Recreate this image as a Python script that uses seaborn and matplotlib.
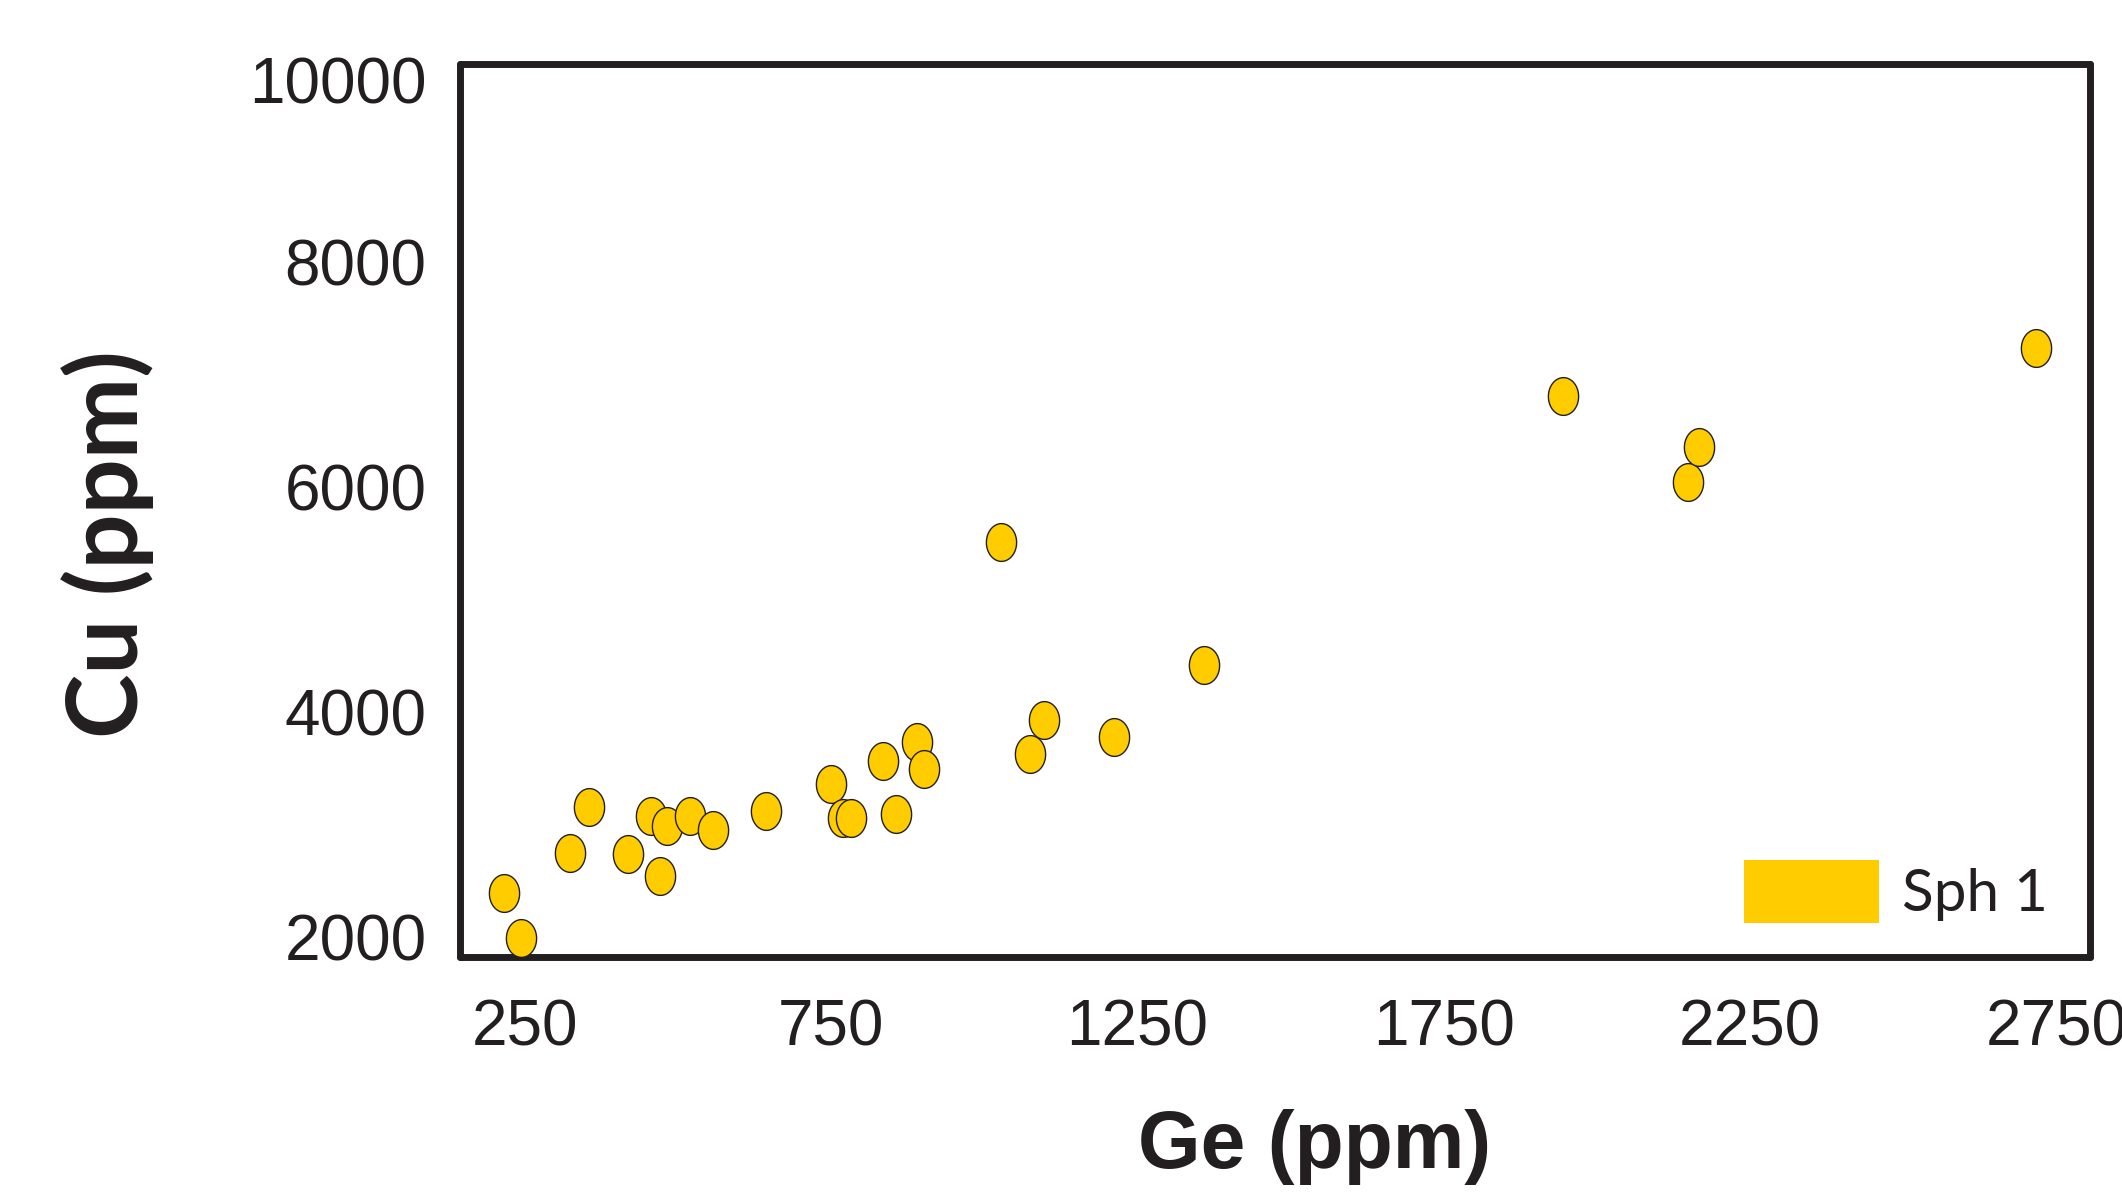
import numpy as np
import pandas as pd
import seaborn as sns
import matplotlib.pyplot as plt
from matplotlib.patches import Patch

# data
ge_ppm = [215, 243, 323, 354, 418, 455, 471, 482, 519, 557, 643, 749, 769, 782,
          835, 855, 890, 901, 1027, 1074, 1098, 1211, 1359, 1944, 2149, 2167, 2717]
cu_ppm = [2385, 1988, 2745, 3154, 2733, 3070, 2541, 2986, 3070, 2950, 3118, 3359,
          3058, 3058, 3563, 3094, 3731, 3491, 5511, 3623, 3924, 3779, 4417, 6809,
          6040, 6353, 7230]
x_ticks = [250, 750, 1250, 1750, 2250, 2750]
y_ticks = [2000, 4000, 6000, 8000, 9611]
y_tick_labels = ['2000', '4000', '6000', '8000', '10000']
group = 'Sph 1'

df = pd.DataFrame({'Ge': ge_ppm, 'Cu': cu_ppm})

sns.set_style("white")
plt.rcParams['font.family'] = ['Liberation Sans', 'DejaVu Sans']

gold = '#ffcc00'
dark = '#231f20'

fig = plt.figure(figsize=(21.22, 11.95), dpi=100)
ax = fig.add_axes([0.2168, 0.1992, 0.7682, 0.7472])

# tall ellipse marker
t = np.linspace(0, 2 * np.pi, 60)
ellipse = list(zip(0.8 * np.cos(t), np.sin(t)))

sns.scatterplot(data=df, x='Ge', y='Cu', ax=ax,
                marker=ellipse, s=740,
                color=gold, edgecolor=dark, linewidth=1.0, zorder=3)

ax.set_xlim(144, 2805)
ax.set_ylim(1820, 9755)

ax.set_xticks(x_ticks)
ax.set_xticklabels([str(v) for v in x_ticks], fontsize=46)
ax.set_yticks(y_ticks)
ax.set_yticklabels(y_tick_labels, fontsize=46)
ax.tick_params(axis='x', length=0, pad=30, colors=dark)
ax.tick_params(axis='y', length=0, pad=24, colors=dark)

for sp in ax.spines.values():
    sp.set_visible(True)
    sp.set_linewidth(5)
    sp.set_color(dark)
    sp.set_capstyle('round')

ax.set_xlabel('Ge (ppm)', fontsize=58, fontweight='bold', color=dark, va='center')
ax.xaxis.set_label_coords(0.524, -0.213)
ax.set_ylabel('Cu (ppm)', family=['Lato', 'DejaVu Sans'], fontsize=70,
              fontweight='bold', color=dark, va='center')
ax.yaxis.set_label_coords(-0.216, 0.4625)

ax.legend(handles=[Patch(facecolor=gold, edgecolor='none', label=group)],
          loc='lower right', bbox_to_anchor=(0.974, 0.038), frameon=False,
          prop={'family': ['Lato', 'DejaVu Sans'], 'size': 42},
          handlelength=2.3, handleheight=1.28, handletextpad=0.4,
          borderpad=0, borderaxespad=0, labelcolor=dark)

fig.savefig('out.png', dpi=100)
